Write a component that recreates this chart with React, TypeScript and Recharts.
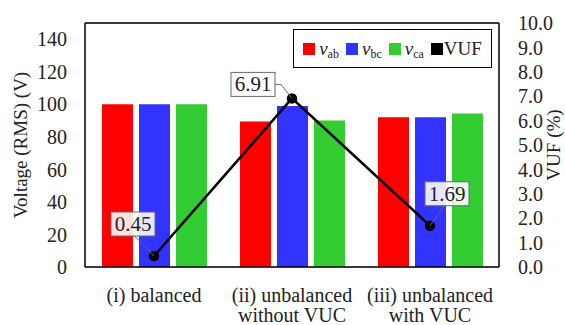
import React from 'react';
import {
  ComposedChart, Bar, Line, XAxis, YAxis, CartesianGrid, Legend, ReferenceLine,
} from 'recharts';

const categories = ['(i) balanced', '(ii) unbalanced\nwithout VUC', '(iii) unbalanced\nwith VUC'];
const vab = [100, 89.5, 92];
const vbc = [100, 99, 92];
const vca = [100, 90, 94.3];
const vuf = [0.45, 6.91, 1.69];
const voltageTicks = [0, 20, 40, 60, 80, 100, 120, 140];
const vufTicks = [0, 1, 2, 3, 4, 5, 6, 7, 8, 9, 10];

const data = categories.map((name, i) => ({ name, vab: vab[i], vbc: vbc[i], vca: vca[i], vuf: vuf[i] }));

const FONT = "'Times New Roman', 'Liberation Serif', Times, serif";
const TEXT = '#222';
const COLORS = { vab: '#ff0000', vbc: '#3333ff', vca: '#33cc33', vuf: '#000000' };

// where each value box sits relative to its point, and the leader path to the point
const LABEL_POS = [
  { bx: -43, by: -44, lead: [[-21, -21], [-13, -14]] },
  { bx: -61, by: -26, lead: [[-18, -14], [-11, -14]] },
  { bx: -5, by: -44, lead: [[15, -21]] },
];

const VufLabel = (props: any) => {
  const { x, y, value, index } = props;
  const p = LABEL_POS[index];
  if (!p) return null;
  const w = 44;
  const h = 24;
  const d = p.lead.map((pt, i) => `${i === 0 ? 'M' : 'L'}${x + pt[0]},${y + pt[1]}`).join(' ') + ` L${x},${y}`;
  return (
    <g>
      <path d={d} stroke="#666" strokeWidth={1} fill="none" />
      <rect x={x + p.bx} y={y + p.by} width={w} height={h} fill="rgba(255,255,255,0.88)" stroke="#666" strokeWidth={1} />
      <text x={x + p.bx + w / 2} y={y + p.by + h / 2 + 7} textAnchor="middle" style={{ fontFamily: FONT }} fontSize={21} fill={TEXT}>
        {Number(value).toFixed(2)}
      </text>
    </g>
  );
};

const CategoryTick = ({ x, y, payload }: any) => {
  const lines = String(payload.value).split('\n');
  return (
    <text x={x} y={y} textAnchor="middle" style={{ fontFamily: FONT }} fontSize={20} fill={TEXT}>
      {lines.map((l, i) => (
        <tspan key={i} x={x} dy={i === 0 ? 27 : 20}>{l}</tspan>
      ))}
    </text>
  );
};

const legendItems = [
  { key: 'vab', sub: 'ab' },
  { key: 'vbc', sub: 'bc' },
  { key: 'vca', sub: 'ca' },
];

const LegendBox = () => (
  <div
    style={{
      width: 197, height: 37, border: '1.5px solid #000', background: '#fff',
      display: 'flex', alignItems: 'center', gap: 7, justifyContent: 'center',
      fontFamily: FONT, fontSize: 19, color: TEXT, boxSizing: 'content-box', lineHeight: 1,
    }}
  >
    {legendItems.map((it) => (
      <span key={it.key} style={{ display: 'flex', alignItems: 'center' }}>
        <span style={{ width: 12, height: 12, background: (COLORS as any)[it.key], marginRight: 4 }} />
        <span style={{ fontStyle: 'italic' }}>v</span>
        <span style={{ fontSize: 12, position: 'relative', top: 5 }}>{it.sub}</span>
      </span>
    ))}
    <span style={{ display: 'flex', alignItems: 'center' }}>
      <span style={{ width: 12, height: 12, background: '#000', marginRight: 1 }} />
      VUF
    </span>
  </div>
);

const tickStyle = { fontFamily: FONT, fontSize: 20, fill: TEXT };

export default function App() {
  return (
    <div style={{ position: 'absolute', left: 0, top: 0, width: 565, height: 325, background: '#fff', fontFamily: FONT }}>
      <ComposedChart
        width={565}
        height={325}
        data={data}
        margin={{ top: 23, right: 6, bottom: 28, left: 30 }}
        barSize={31}
        barGap={6}
        style={{ fontFamily: FONT }}
      >
        <CartesianGrid vertical={false} stroke="#c4c4c4" strokeWidth={1} />
        <XAxis
          dataKey="name"
          tick={<CategoryTick />}
          tickLine={false}
          axisLine={{ stroke: '#000', strokeWidth: 1.5 }}
          interval={0}
          height={30}
        />
        <YAxis
          yAxisId="v"
          domain={[0, 150]}
          ticks={voltageTicks}
          interval={0}
          width={55}
          tickLine={false}
          tickSize={0}
          tickMargin={18}
          axisLine={{ stroke: '#000', strokeWidth: 1.5 }}
          tick={tickStyle}
          label={{ value: 'Voltage (RMS) (V)', angle: -90, position: 'center', dx: -37, style: { ...tickStyle, fontSize: 19 } }}
        />
        <YAxis
          yAxisId="vuf"
          orientation="right"
          domain={[0, 10]}
          ticks={vufTicks}
          interval={0}
          width={60}
          tickLine={false}
          tickSize={0}
          tickMargin={19}
          axisLine={{ stroke: '#000', strokeWidth: 1.5 }}
          tickFormatter={(v: number) => v.toFixed(1)}
          tick={{ ...tickStyle, textAnchor: 'start' }}
          label={{ value: 'VUF (%)', angle: -90, position: 'center', dx: 24, style: { ...tickStyle, fontSize: 19 } }}
        />
        <ReferenceLine yAxisId="v" y={150} stroke="#000" strokeWidth={1.5} />
        <Bar yAxisId="v" dataKey="vab" fill={COLORS.vab} isAnimationActive={false} />
        <Bar yAxisId="v" dataKey="vbc" fill={COLORS.vbc} isAnimationActive={false} />
        <Bar yAxisId="v" dataKey="vca" fill={COLORS.vca} isAnimationActive={false} />
        <Line
          yAxisId="vuf"
          dataKey="vuf"
          stroke="#000"
          strokeWidth={2.5}
          dot={{ r: 4, fill: '#000', stroke: '#000' }}
          label={<VufLabel />}
          isAnimationActive={false}
        />
        <Legend
          layout="vertical"
          align="center"
          verticalAlign="middle"
          content={<LegendBox />}
          wrapperStyle={{ left: 293, top: 29, width: 200 }}
        />
      </ComposedChart>
    </div>
  );
}
